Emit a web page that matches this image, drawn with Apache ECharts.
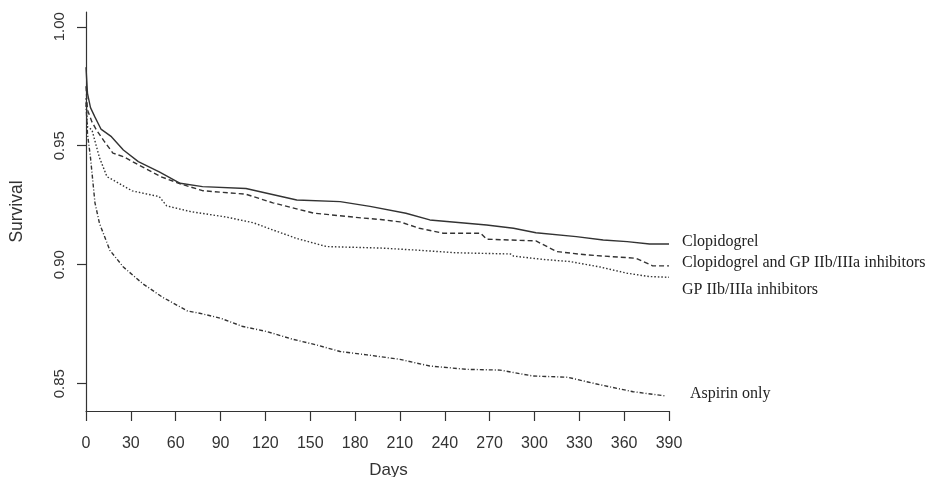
<!DOCTYPE html>
<html>
<head>
<meta charset="utf-8">
<script src="https://cdn.jsdelivr.net/npm/echarts@6.0.0/dist/echarts.min.js"></script>
<style>
  html, body { margin: 0; padding: 0; background: #fff; }
  #chart { width: 929px; height: 477px; }
</style>
</head>
<body>
<div id="chart"></div>
<script>
// Kaplan-Meier survival by antiplatelet therapy.
const yTicks = [0.85, 0.90, 0.95, 1.00];

const clopDays = [0, 1, 3, 6, 10, 17, 25, 35, 49, 63, 78, 107, 121, 141, 170, 190, 214, 230, 268, 286, 301, 328, 346, 362, 377, 390];
const clopSurv = [0.983, 0.972, 0.966, 0.962, 0.957, 0.9538, 0.9482, 0.9433, 0.939, 0.9342, 0.9328, 0.932, 0.930, 0.9272, 0.9265, 0.9245, 0.9216, 0.9188, 0.9167, 0.9153, 0.9134, 0.9118, 0.9104, 0.9097, 0.9087, 0.9087];

const bothDays = [0, 1, 4, 7, 12, 18, 25, 35, 50, 63, 78, 107, 125, 152, 185, 197, 210, 223, 239, 264, 268, 301, 315, 335, 368, 379, 390];
const bothSurv = [0.975, 0.965, 0.96, 0.9566, 0.952, 0.9469, 0.9454, 0.942, 0.937, 0.934, 0.9311, 0.9296, 0.926, 0.9217, 0.9196, 0.919, 0.918, 0.9153, 0.9132, 0.9132, 0.9107, 0.910, 0.9055, 0.9041, 0.9027, 0.8995, 0.8995];

const gpDays = [0, 1, 4, 9, 14, 18, 31, 49, 54, 70, 94, 112, 125, 141, 161, 197, 219, 248, 284, 286, 306, 324, 344, 362, 377, 390];
const gpSurv = [0.97, 0.958, 0.9566, 0.945, 0.937, 0.9356, 0.931, 0.9286, 0.9247, 0.9223, 0.920, 0.9176, 0.9146, 0.911, 0.9076, 0.907, 0.9062, 0.905, 0.9045, 0.9036, 0.9022, 0.9013, 0.899, 0.8964, 0.895, 0.8947];

const aspDays = [0, 1, 3, 6, 9, 16, 25, 38, 51, 68, 76, 90, 105, 121, 138, 154, 170, 188, 210, 230, 255, 277, 299, 322, 344, 366, 388];
const aspSurv = [0.968, 0.955, 0.945, 0.926, 0.9174, 0.906, 0.899, 0.892, 0.8864, 0.8805, 0.8796, 0.8775, 0.874, 0.8719, 0.8687, 0.8663, 0.8635, 0.8621, 0.8602, 0.8574, 0.856, 0.8557, 0.8532, 0.8527, 0.8495, 0.8466, 0.8448];

const INK = "#333";
const SANS = "'Liberation Sans', Arial, sans-serif";
const SERIF = "'Liberation Serif', 'Times New Roman', serif";

const pairs = (d, v) => d.map((x, i) => [x, v[i]]);

function curve(name, days, surv, dash, label) {
  return {
    name, type: "line", data: pairs(days, surv),
    symbol: "none", silent: true,
    lineStyle: { color: INK, width: 1.4, type: dash },
    endLabel: {
      show: true, formatter: name, color: "#222",
      fontFamily: SERIF, fontSize: 16,
      distance: label.distance, offset: label.offset,
    },
  };
}

const chart = echarts.init(document.getElementById("chart"), null, { renderer: "canvas" });
chart.setOption({
  animation: false,
  backgroundColor: "#fff",
  // fixed plot box; don't let v6 shrink it to fit the axis names
  grid: { left: 86, right: 260, top: 12, bottom: 66, outerBoundsMode: "none", containLabel: false },
  xAxis: {
    type: "value", min: 0, max: 390, interval: 30,
    name: "Days", nameLocation: "middle", nameGap: 51,
    nameTextStyle: { color: INK, fontFamily: SANS, fontSize: 17, padding: [0, 0, 0, 22] },
    axisLine: { onZero: false, lineStyle: { color: INK, width: 1.2 } },
    axisTick: { length: 10, lineStyle: { color: INK, width: 1.2 } },
    axisLabel: { color: INK, fontFamily: SANS, fontSize: 16, margin: 25 },
    splitLine: { show: false },
  },
  yAxis: {
    type: "value", min: 0.8385, max: 1.0062,
    name: "Survival", nameLocation: "middle", nameGap: 60, nameRotate: 90,
    nameTextStyle: { color: INK, fontFamily: SANS, fontSize: 17.5 },
    axisLine: { show: true, onZero: false, lineStyle: { color: INK, width: 1.2 } },
    axisTick: { show: true, length: 9, customValues: yTicks, lineStyle: { color: INK, width: 1.2 } },
    axisLabel: {
      color: INK, fontFamily: SANS, fontSize: 15, rotate: 90, margin: 19,
      customValues: yTicks, formatter: (v) => v.toFixed(2),
    },
    splitLine: { show: false },
  },
  series: [
    curve("Clopidogrel", clopDays, clopSurv, "solid", { distance: 13, offset: [0, -2] }),
    curve("Clopidogrel and GP IIb/IIIa inhibitors", bothDays, bothSurv, [5, 3], { distance: 13, offset: [0, -3] }),
    curve("GP IIb/IIIa inhibitors", gpDays, gpSurv, [1.5, 2], { distance: 13, offset: [0, 13] }),
    curve("Aspirin only", aspDays, aspSurv, [4, 2, 1, 2], { distance: 24, offset: [0, -2] }),
  ],
});
</script>
</body>
</html>
